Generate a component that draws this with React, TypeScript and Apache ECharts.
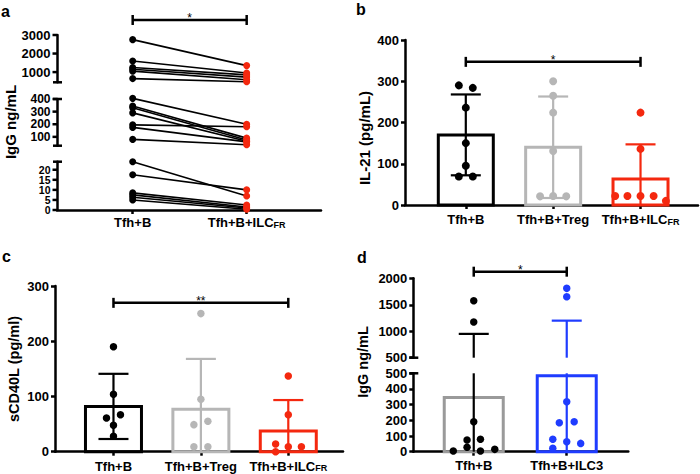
import React, { useEffect, useRef } from 'react';
import * as echarts from 'echarts';

// ---------- Panel a: paired IgG (ng/mL), broken axis in three segments ----------
const aCategories = ['Tfh+B', 'Tfh+B+ILC_FR'];
const aTopLeft = [2750, 1600, 1250, 1150, 1050, 650];
const aTopRight = [1350, 950, 850, 730, 590, 480];
const aMidLeft = [405, 345, 330, 290, 195, 175, 80];
const aMidRight = [200, 90, 75, 65, 180, 60, 38];
const aLowLeft = [24, 17.5, 8.5, 7.5, 6.3, 5];
const aLowRight = [7, 10, 2.5, 1.5, 1, 0.4];
const aTopTicks = [1000, 2000, 3000];
const aMidTicks = [100, 200, 300, 400];
const aLowTicks = [0, 5, 10, 15, 20];

// ---------- Panel b: IL-21 (pg/mL) ----------
const bCategories = ['Tfh+B', 'Tfh+B+Treg', 'Tfh+B+ILC_FR'];
const bMeans = [170, 140, 63];
const bSD = [98, 123, 84];
const bTfhB = [290, 284, 236, 150, 95, 69, 69];
const bTfhBJitter = [-0.08, 0.08, 0, 0, 0, -0.08, 0.08];
const bTreg = [300, 265, 224, 131, 21, 22, 21];
const bTregJitter = [0, 0, 0, 0, -0.15, 0, 0.15];
const bILC = [224, 136, 22, 22, 22, 22, 10];
const bILCJitter = [0, 0, -0.29, -0.15, 0, 0.15, 0.29];

// ---------- Panel c: sCD40L (pg/ml) ----------
const cCategories = ['Tfh+B', 'Tfh+B+Treg', 'Tfh+B+ILC_FR'];
const cMeans = [82, 77, 37.5];
const cSD = [59, 91, 56];
const cTfhB = [190, 104, 61, 67, 48, 28];
const cTfhBJitter = [0, 0, -0.08, 0.08, 0, 0];
const cTreg = [250, 95, 49, 55, 9, 9];
const cTregJitter = [0, 0, -0.08, 0.08, -0.08, 0.08];
const cILC = [137, 67, 14, 9, 9, 0];
const cILCJitter = [0, 0, -0.145, 0, 0.15, -0.145];

// ---------- Panel d: IgG ng/mL, broken axis ----------
const dCategories = ['Tfh+B', 'Tfh+B+ILC3'];
const dMeans = [345, 485];
const dSD = [605, 715];
const dTfhB = [1575, 1175, 191, 75, 79, 28, 4, 4, 15];
const dTfhBJitter = [0, 0, 0, -0.072, 0.072, -0.072, -0.22, 0.072, 0.226];
const dILC3 = [1810, 1650, 318, 185, 191, 79, 64, 53, 22];
const dILC3Jitter = [0, 0, 0, -0.08, 0.08, -0.15, 0, 0.15, -0.15];

const FONT = "'Liberation Sans', Arial, Helvetica, sans-serif";
const BLACK = '#000000';
const GRAY = '#b6b6b6';
const DGRAY = '#9a9a9a';
const RED = '#f4280f';
const BLUE = '#1f3cff';

type G = {
  left: number; top: number; width: number; height: number;
  xMin: number; xMax: number; yMin: number; yMax: number;
  yTicks?: number[]; yTickFont?: number; yInterval?: number;
  xLabels?: string[]; xMargin?: number;
};

const grids: G[] = [
  { left: 57, top: 35, width: 264, height: 47.3, xMin: -0.664, xMax: 1.652, yMin: 450, yMax: 3000, yTicks: aTopTicks, yTickFont: 13 },
  { left: 57, top: 99, width: 264, height: 46.7, xMin: -0.664, xMax: 1.652, yMin: 30, yMax: 400, yTicks: aMidTicks, yTickFont: 12 },
  { left: 57, top: 161.7, width: 264, height: 48.3, xMin: -0.664, xMax: 1.652, yMin: 0, yMax: 24, yTicks: aLowTicks, yTickFont: 10.5, xLabels: aCategories, xMargin: 3 },
  { left: 405, top: 40, width: 293, height: 165, xMin: -0.696, xMax: 2.658, yMin: 0, yMax: 400, yInterval: 100, xLabels: bCategories, xMargin: 5 },
  { left: 55, top: 286, width: 288, height: 165.7, xMin: -0.669, xMax: 2.626, yMin: 0, yMax: 300, yInterval: 100, xLabels: cCategories, xMargin: 5 },
  { left: 413.3, top: 278.3, width: 215, height: 79.4, xMin: -0.65, xMax: 1.662, yMin: 500, yMax: 2000, yInterval: 500 },
  { left: 413.3, top: 373.3, width: 215, height: 78.4, xMin: -0.65, xMax: 1.662, yMin: 0, yMax: 500, yInterval: 100, xLabels: dCategories, xMargin: 4 },
];

const labelFmt = (labels: string[]) => (v: number) => {
  const s = labels[Math.round(v)] ?? '';
  if (s.endsWith('_FR')) return '{m|' + s.slice(0, -3) + '}{s|FR}';
  return '{m|' + s + '}';
};

function buildAxes() {
  const xAxis: any[] = [];
  const yAxis: any[] = [];
  const gridOpt: any[] = [];
  grids.forEach((g, i) => {
    gridOpt.push({ left: g.left, top: g.top, width: g.width, height: g.height, containLabel: false, outerBoundsMode: 'none' });
    const show = !!g.xLabels;
    const xCustom = g.xLabels ? g.xLabels.map((_, k) => k) : [];
    xAxis.push({
      type: 'value', gridIndex: i, min: g.xMin, max: g.xMax, show,
      axisLine: { show, onZero: false, lineStyle: { color: BLACK, width: 2.5 } },
      axisTick: { show, length: 4, customValues: xCustom, lineStyle: { color: BLACK, width: 2.5 } },
      splitLine: { show: false },
      axisLabel: {
        show, customValues: xCustom, margin: g.xMargin ?? 4, hideOverlap: false,
        formatter: g.xLabels ? labelFmt(g.xLabels) : undefined,
        rich: {
          m: { fontFamily: FONT, fontWeight: 'bold', fontSize: 13, color: BLACK, lineHeight: 16, verticalAlign: 'bottom' },
          s: { fontFamily: FONT, fontWeight: 'bold', fontSize: 9, color: BLACK, lineHeight: 9, padding: [9, 0, 0, 0], verticalAlign: 'bottom' },
        },
      },
    });
    const custom = !!g.yTicks;
    const yA: any = {
      type: 'value', gridIndex: i, min: g.yMin, max: g.yMax,
      axisLine: { show: true, onZero: false, lineStyle: { color: BLACK, width: 2.5 } },
      axisTick: { show: !custom, length: 4, lineStyle: { color: BLACK, width: 2.5 } },
      splitLine: { show: false },
      axisLabel: {
        show: !custom,
        fontFamily: FONT, fontWeight: 'bold', fontSize: 13, color: BLACK, margin: 6,
        showMinLabel: true, showMaxLabel: true, hideOverlap: false,
        formatter: (v: number) => String(v),
      },
    };
    if (g.yInterval) yA.interval = g.yInterval;
    yAxis.push(yA);
  });
  return { xAxis, yAxis, grid: gridOpt };
}

// Tick marks + labels of the broken-axis segments, placed through the axis scale
function yTickSeries(gi: number) {
  const g = grids[gi];
  const fs = g.yTickFont ?? 13;
  return {
    type: 'custom', xAxisIndex: gi, yAxisIndex: gi, clip: false, silent: true, z: 4,
    data: (g.yTicks || []).map((v) => [g.xMin, v]),
    encode: { x: 0, y: 1 },
    renderItem: (_p: any, api: any) => {
      const v = api.value(1);
      const p = api.coord([api.value(0), v]);
      return {
        type: 'group',
        children: [
          { type: 'line', shape: { x1: p[0] - 4.5, y1: p[1], x2: p[0], y2: p[1] }, style: { stroke: BLACK, lineWidth: 2.5 } },
          {
            type: 'text',
            style: {
              text: String(v), x: p[0] - 6.5, y: p[1], lineHeight: fs,
              align: 'right', verticalAlign: 'middle', textAlign: 'right', textVerticalAlign: 'middle',
              fill: BLACK, font: `bold ${fs}px ${FONT}`,
            },
          },
        ],
      };
    },
  };
}

function pairLines(gi: number, left: number[], right: number[]) {
  return {
    type: 'custom', xAxisIndex: gi, yAxisIndex: gi, clip: false, silent: true, z: 2,
    data: left.map((l, i) => [0, l, 1, right[i]]),
    encode: { x: [0, 2], y: [1, 3] },
    renderItem: (_p: any, api: any) => {
      const p1 = api.coord([api.value(0), api.value(1)]);
      const p2 = api.coord([api.value(2), api.value(3)]);
      return { type: 'line', shape: { x1: p1[0], y1: p1[1], x2: p2[0], y2: p2[1] }, style: { stroke: BLACK, lineWidth: 1.6 } };
    },
  };
}

function points(gi: number, idx: number, vals: number[], jitter: number[], color: string, size: number, range?: [number, number]) {
  const data: number[][] = [];
  vals.forEach((v, i) => {
    if (!range || (v >= range[0] && v <= range[1])) data.push([idx + (jitter[i] || 0), v]);
  });
  return {
    type: 'scatter', xAxisIndex: gi, yAxisIndex: gi, symbol: 'circle', symbolSize: size,
    itemStyle: { color, opacity: 1 }, data, z: 5, clip: false, silent: true,
  };
}

function bars(gi: number, means: number[], colors: string[], widthPx: number) {
  const g = grids[gi];
  return {
    type: 'custom', xAxisIndex: gi, yAxisIndex: gi, clip: false, silent: true, z: 2,
    data: means.map((m, i) => [i, m]),
    encode: { x: 0, y: 1 },
    renderItem: (p: any, api: any) => {
      const x = api.value(0);
      const m = Math.min(api.value(1), g.yMax);
      const p0 = api.coord([x, g.yMin]);
      const p1 = api.coord([x, m]);
      return {
        type: 'rect',
        shape: { x: p0[0] - widthPx / 2, y: p1[1], width: widthPx, height: p0[1] - p1[1] },
        style: { fill: 'none', stroke: colors[p.dataIndex], lineWidth: 3 },
      };
    },
  };
}

function errorBars(gi: number, means: number[], sds: number[], colors: string[], capPx: number) {
  const g = grids[gi];
  return {
    type: 'custom', xAxisIndex: gi, yAxisIndex: gi, clip: false, silent: true, z: 3,
    data: means.map((m, i) => [i, m, sds[i]]),
    encode: { x: 0, y: 1 },
    renderItem: (p: any, api: any) => {
      const x = api.value(0), m = api.value(1), s = api.value(2);
      const lo = m - s, hi = m + s;
      if (hi < g.yMin || lo > g.yMax) return null;
      const pLo = api.coord([x, Math.max(lo, g.yMin)]);
      const pHi = api.coord([x, Math.min(hi, g.yMax)]);
      const color = colors[p.dataIndex];
      const st = { stroke: color, lineWidth: 2.2 };
      const children: any[] = [
        { type: 'line', shape: { x1: pLo[0], y1: pLo[1], x2: pHi[0], y2: pHi[1] }, style: st },
      ];
      if (hi <= g.yMax) children.push({ type: 'line', shape: { x1: pHi[0] - capPx / 2, y1: pHi[1], x2: pHi[0] + capPx / 2, y2: pHi[1] }, style: st });
      if (lo >= g.yMin) children.push({ type: 'line', shape: { x1: pLo[0] - capPx / 2, y1: pLo[1], x2: pLo[0] + capPx / 2, y2: pLo[1] }, style: st });
      return { type: 'group', children };
    },
  };
}

function bracket(gi: number, x1: number, x2: number, y: number, label: string) {
  return {
    type: 'custom', xAxisIndex: gi, yAxisIndex: gi, clip: false, silent: true, z: 3,
    data: [[x1, x2, y]],
    encode: { x: [0, 1], y: 2 },
    renderItem: (_p: any, api: any) => {
      const a = api.coord([api.value(0), api.value(2)]);
      const b = api.coord([api.value(1), api.value(2)]);
      const st = { stroke: BLACK, lineWidth: 2.5 };
      return {
        type: 'group',
        children: [
          { type: 'line', shape: { x1: a[0], y1: a[1], x2: b[0], y2: b[1] }, style: st },
          { type: 'line', shape: { x1: a[0], y1: a[1] - 5, x2: a[0], y2: a[1] + 5 }, style: st },
          { type: 'line', shape: { x1: b[0], y1: b[1] - 5, x2: b[0], y2: b[1] + 5 }, style: st },
          {
            type: 'text',
            style: {
              text: label, x: (a[0] + b[0]) / 2, y: a[1] - 2,
              align: 'center', verticalAlign: 'middle', textAlign: 'center', textVerticalAlign: 'middle',
              fill: BLACK, font: `normal 12px ${FONT}`,
            },
          },
        ],
      };
    },
  };
}

function breakCaps() {
  const caps: [number, number][] = [
    [0, grids[0].top + grids[0].height],
    [1, grids[1].top],
    [1, grids[1].top + grids[1].height],
    [2, grids[2].top],
    [5, grids[5].top + grids[5].height],
    [6, grids[6].top],
  ];
  return caps.map(([gi, y]) => ({
    type: 'line', silent: true,
    shape: { x1: grids[gi].left - 4, y1: y, x2: grids[gi].left + 5, y2: y },
    style: { stroke: BLACK, lineWidth: 2.5 },
  }));
}

function txt(text: string, x: number, y: number, size: number, rotate = 0, align = 'left') {
  return {
    type: 'text', silent: true, x, y, rotation: rotate,
    style: {
      text, x: 0, y: 0, fill: BLACK, font: `bold ${size}px ${FONT}`,
      align, verticalAlign: 'middle', textAlign: align, textVerticalAlign: 'middle',
    },
  };
}

export default function App() {
  const ref = useRef<HTMLDivElement>(null);
  useEffect(() => {
    document.body.style.margin = '0';
    if (!ref.current) return;
    const chart = echarts.init(ref.current, null, { renderer: 'svg' });
    const { xAxis, yAxis, grid } = buildAxes();
    const series: any[] = [
      // panel a
      yTickSeries(0),
      yTickSeries(1),
      yTickSeries(2),
      pairLines(0, aTopLeft, aTopRight),
      pairLines(1, aMidLeft, aMidRight),
      pairLines(2, aLowLeft, aLowRight),
      points(0, 0, aTopLeft, [], BLACK, 7),
      points(0, 1, aTopRight, [], RED, 7),
      points(1, 0, aMidLeft, [], BLACK, 7),
      points(1, 1, aMidRight, [], RED, 7),
      points(2, 0, aLowLeft, [], BLACK, 7),
      points(2, 1, aLowRight, [], RED, 7),
      bracket(0, 0, 1, 3810, '*'),
      // panel b
      bars(3, bMeans, [BLACK, GRAY, RED], 55),
      errorBars(3, bMeans, bSD, [BLACK, GRAY, RED], 30),
      points(3, 0, bTfhB, bTfhBJitter, BLACK, 8),
      points(3, 1, bTreg, bTregJitter, GRAY, 8),
      points(3, 2, bILC, bILCJitter, RED, 8),
      bracket(3, 0, 2, 347, '*'),
      // panel c
      bars(4, cMeans, [BLACK, GRAY, RED], 56),
      errorBars(4, cMeans, cSD, [BLACK, GRAY, RED], 30),
      points(4, 0, cTfhB, cTfhBJitter, BLACK, 7.5),
      points(4, 1, cTreg, cTregJitter, GRAY, 7.5),
      points(4, 2, cILC, cILCJitter, RED, 7.5),
      bracket(4, 0, 2, 269.5, '**'),
      // panel d
      bars(6, dMeans, [DGRAY, BLUE], 59),
      errorBars(5, dMeans, dSD, [BLACK, BLUE], 30),
      errorBars(6, dMeans, dSD, [BLACK, BLUE], 30),
      points(5, 0, dTfhB, dTfhBJitter, BLACK, 7.5, [500, 2000]),
      points(5, 1, dILC3, dILC3Jitter, BLUE, 7.5, [500, 2000]),
      points(6, 0, dTfhB, dTfhBJitter, BLACK, 7.5, [0, 499.99]),
      points(6, 1, dILC3, dILC3Jitter, BLUE, 7.5, [0, 499.99]),
      bracket(5, 0, 1, 2125, '*'),
    ];
    const graphic: any[] = [
      ...breakCaps(),
      txt('a', 1, 11.5, 16),
      txt('b', 356, 9.5, 16),
      txt('c', 2, 256.5, 16),
      txt('d', 357, 257.5, 16),
      txt('IgG ng/mL', 10, 122, 15, Math.PI / 2, 'center'),
      txt('IL-21 (pg/mL)', 364, 138, 15, Math.PI / 2, 'center'),
      txt('sCD40L (pg/ml)', 14, 369, 14.5, Math.PI / 2, 'center'),
      txt('IgG ng/mL', 363, 362, 14.5, Math.PI / 2, 'center'),
    ];
    chart.setOption({
      animation: false,
      backgroundColor: '#ffffff',
      textStyle: { fontFamily: FONT },
      grid, xAxis, yAxis, series, graphic,
    });
    return () => chart.dispose();
  }, []);
  return <div ref={ref} style={{ position: 'fixed', left: 0, top: 0, width: 700, height: 474 }} />;
}
